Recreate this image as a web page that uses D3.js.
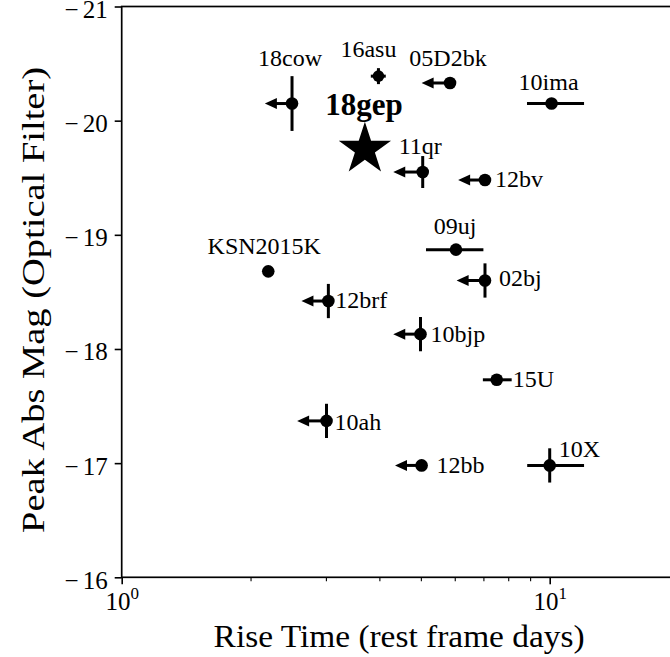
<!DOCTYPE html>
<html>
<head>
<meta charset="utf-8">
<script src="https://cdn.jsdelivr.net/npm/d3@7"></script>
<style>
  html, body { margin: 0; padding: 0; background: #fff; }
  svg { display: block; }
</style>
</head>
<body>
<svg id="chart" width="670" height="657"></svg>
<script>
// ---- data: peak absolute magnitude vs. rest-frame rise time ----
const names        = ["18cow", "16asu", "05D2bk", "10ima", "11qr", "12bv", "09uj", "KSN2015K",
                      "02bj", "12brf", "10bjp", "15U", "10ah", "12bb", "10X"];
const riseTime     = [2.50, 3.98, 5.85, 10.1, 5.05, 7.06, 6.04, 2.20, 7.06, 3.04, 4.99, 7.52, 3.01, 5.02, 10.0];
const peakMag      = [-20.15, -20.39, -20.33, -20.15, -19.55, -19.48, -18.87, -18.68,
                      -18.60, -18.42, -18.13, -17.73, -17.37, -16.98, -16.98];
// asymmetric rise-time errors (days); null = none
const riseErrLo    = [null, 0.16, null, 1.25, null, null, 0.90, null, null, null, null, 0.54, null, null, 1.14];
const riseErrHi    = [null, 0.16, null, 1.93, null, null, 0.96, null, null, null, null, 0.63, null, null, 2.03];
// magnitude errors; null = none
const magErr       = [0.24, 0.07, null, null, 0.14, null, null, null, 0.15, 0.15, 0.15, null, 0.15, null, 0.15];
// rise time is an upper limit: arrow reaches down to this value (days); null = measured
const riseLimitTip = [2.16, null, 5.02, null, 4.31, 6.11, null, null, 6.06, 2.63, 4.31, null, 2.57, 4.35, null];

// highlighted event
const heroName = "18gep";
const heroRise = 3.70;
const heroMag  = -19.75;

// axes
const riseDomain     = [1, 20];
const magDomain      = [-21, -16];
const magTicks       = [-21, -20, -19, -18, -17, -16];
const riseMajorTicks = [1, 10];
const riseMajorExp   = ["0", "1"];
const riseMinorTicks = [2, 3, 4, 5, 6, 7, 8, 9, 20];

const xTitle = "Rise Time (rest frame days)";
const yTitle = "Peak Abs Mag (Optical Filter)";

// ---- label placement (pixel offsets from each marker) ----
const labelLayout = {
  "18cow":    { dx: -2,  dy: -38, anchor: "middle" },
  "16asu":    { dx: -10, dy: -19, anchor: "middle" },
  "05D2bk":   { dx: -2,  dy: -17, anchor: "middle" },
  "10ima":    { dx: -3,  dy: -14, anchor: "middle" },
  "11qr":     { dx: -24, dy: -18, anchor: "start" },
  "12bv":     { dx: 10,  dy: 7,   anchor: "start" },
  "09uj":     { dx: -1,  dy: -16, anchor: "middle" },
  "KSN2015K": { dx: -4,  dy: -17, anchor: "middle" },
  "02bj":     { dx: 14,  dy: 6,   anchor: "start" },
  "12brf":    { dx: 7,   dy: 7,   anchor: "start" },
  "10bjp":    { dx: 10,  dy: 8,   anchor: "start" },
  "15U":      { dx: 16,  dy: 7,   anchor: "start" },
  "10ah":     { dx: 8,   dy: 9,   anchor: "start" },
  "12bb":     { dx: 15,  dy: 8,   anchor: "start" },
  "10X":      { dx: 9,   dy: -8,  anchor: "start" }
};

// ---- geometry & style ----
const serif = "'Liberation Serif', 'Times New Roman', Times, serif";
const plot = { left: 121.7, top: 6.5, bottom: 577.3, decade: 428 };
const plotRight = plot.left + plot.decade * Math.log10(riseDomain[1]);
const ink = "#000";
const barWidth = 3;
const dotR = 6.3;
const smallDotR = 5.8;
const arrowHead = { len: 12, half: 5.5 };

const svg = d3.select("#chart");

const x = d3.scaleLog().domain(riseDomain).range([plot.left, plotRight]);
const y = d3.scaleLinear().domain(magDomain).range([plot.top, plot.bottom]);

// ---- axes ----
const yAxis = d3.axisLeft(y)
  .tickValues(magTicks)
  .tickSize(7)
  .tickPadding(7)
  .tickFormat(d => d);

const gy = svg.append("g")
  .attr("transform", `translate(${plot.left},0)`)
  .call(yAxis);
gy.select(".domain").remove();
gy.selectAll(".tick line").attr("stroke", ink).attr("stroke-width", 1.6);
gy.selectAll(".tick text").each(function (d) {
  const t = d3.select(this).text(null)
    .attr("font-family", serif).attr("font-size", 25).attr("fill", ink)
    .attr("dy", "0.44em");
  t.append("tspan").text(d < 0 ? "\u2212" : "");
  t.append("tspan").attr("dx", d < 0 ? 4 : 0).text(Math.abs(d));
});

// minor ticks on the log axis
const gxMinor = svg.append("g")
  .attr("transform", `translate(0,${plot.bottom})`)
  .call(d3.axisBottom(x).tickValues(riseMinorTicks).tickSize(4).tickFormat(""));
gxMinor.select(".domain").remove();
gxMinor.selectAll(".tick line").attr("stroke", ink).attr("stroke-width", 1.1);

// major ticks with power-of-ten labels
const gx = svg.append("g")
  .attr("transform", `translate(0,${plot.bottom})`)
  .call(d3.axisBottom(x).tickValues(riseMajorTicks).tickSize(7).tickFormat(""));
gx.select(".domain").remove();
gx.selectAll(".tick line").attr("stroke", ink).attr("stroke-width", 1.6);
gx.selectAll(".tick").each(function (d, i) {
  const t = d3.select(this).append("text")
    .attr("y", 33)
    .attr("text-anchor", "middle")
    .attr("font-family", serif)
    .attr("font-size", 25)
    .attr("fill", ink);
  t.append("tspan").text("10");
  t.append("tspan").attr("font-size", 17).attr("dy", -11).text(riseMajorExp[i]);
});

// frame (right edge lies beyond the visible area)
svg.append("rect")
  .attr("x", plot.left).attr("y", plot.top)
  .attr("width", plotRight - plot.left).attr("height", plot.bottom - plot.top)
  .attr("fill", "none").attr("stroke", ink).attr("stroke-width", 1.7);

// axis titles
svg.append("text")
  .attr("x", (plot.left + plotRight) / 2 - 1)
  .attr("y", 647)
  .attr("text-anchor", "middle")
  .attr("font-family", serif).attr("font-size", 31).attr("fill", ink)
  .attr("textLength", 371).attr("lengthAdjust", "spacingAndGlyphs")
  .text(xTitle);

svg.append("text")
  .attr("transform", `translate(44,${(plot.top + plot.bottom) / 2 + 8}) rotate(-90)`)
  .attr("text-anchor", "middle")
  .attr("font-family", serif).attr("font-size", 31).attr("fill", ink)
  .attr("textLength", 466).attr("lengthAdjust", "spacingAndGlyphs")
  .text(yTitle);

// ---- markers ----
const events = names.map((n, i) => ({
  name: n, rise: riseTime[i], mag: peakMag[i],
  lo: riseErrLo[i], hi: riseErrHi[i], merr: magErr[i], tip: riseLimitTip[i]
}));

const gm = svg.append("g");

// horizontal error bars
gm.selectAll("line.xerr")
  .data(events.filter(d => d.lo != null))
  .join("line").attr("class", "xerr")
  .attr("x1", d => x(d.rise - d.lo)).attr("x2", d => x(d.rise + d.hi))
  .attr("y1", d => y(d.mag)).attr("y2", d => y(d.mag))
  .attr("stroke", ink).attr("stroke-width", barWidth);

// vertical error bars
gm.selectAll("line.yerr")
  .data(events.filter(d => d.merr != null))
  .join("line").attr("class", "yerr")
  .attr("x1", d => x(d.rise)).attr("x2", d => x(d.rise))
  .attr("y1", d => y(d.mag - d.merr)).attr("y2", d => y(d.mag + d.merr))
  .attr("stroke", ink).attr("stroke-width", barWidth);

// upper-limit arrows
const limits = events.filter(d => d.tip != null);
gm.selectAll("line.limit")
  .data(limits)
  .join("line").attr("class", "limit")
  .attr("x1", d => x(d.rise)).attr("x2", d => x(d.tip) + arrowHead.len - 2)
  .attr("y1", d => y(d.mag)).attr("y2", d => y(d.mag))
  .attr("stroke", ink).attr("stroke-width", barWidth);
gm.selectAll("path.head")
  .data(limits)
  .join("path").attr("class", "head")
  .attr("d", d => {
    const tx = x(d.tip), ty = y(d.mag);
    return `M${tx},${ty}L${tx + arrowHead.len},${ty - arrowHead.half}L${tx + arrowHead.len},${ty + arrowHead.half}Z`;
  })
  .attr("fill", ink);

// points
gm.selectAll("circle.pt")
  .data(events)
  .join("circle").attr("class", "pt")
  .attr("cx", d => x(d.rise)).attr("cy", d => y(d.mag))
  .attr("r", d => (d.merr != null && d.merr < 0.1) ? smallDotR : dotR)
  .attr("fill", ink);

// labels
svg.append("g").selectAll("text")
  .data(events)
  .join("text")
  .attr("x", d => x(d.rise) + labelLayout[d.name].dx)
  .attr("y", d => y(d.mag) + labelLayout[d.name].dy)
  .attr("text-anchor", d => labelLayout[d.name].anchor)
  .attr("font-family", serif).attr("font-size", 24).attr("fill", ink)
  .text(d => d.name);

// highlighted event: star + bold label
svg.append("path")
  .attr("transform", `translate(${x(heroRise)},${y(heroMag)})`)
  .attr("d", d3.symbol(d3.symbolStar, 849)())
  .attr("fill", ink);

svg.append("text")
  .attr("x", x(heroRise) - 1)
  .attr("y", y(heroMag) - 34)
  .attr("text-anchor", "middle")
  .attr("font-family", serif).attr("font-size", 31).attr("font-weight", "bold").attr("fill", ink)
  .text(heroName);
</script>
</body>
</html>
